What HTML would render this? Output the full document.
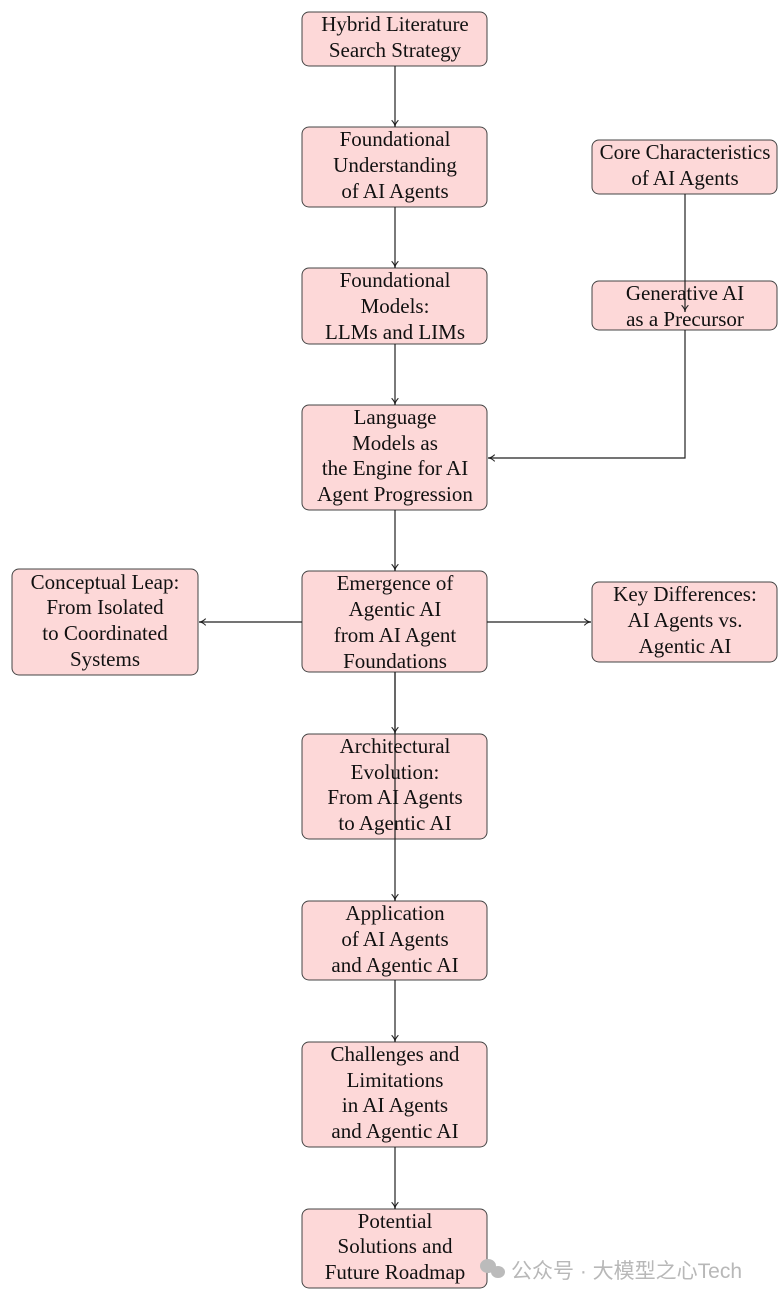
<!DOCTYPE html>
<html><head><meta charset="utf-8"><style>
html,body{margin:0;padding:0;background:#fff;}
svg{display:block;}
text{font-family:"Liberation Serif",serif;font-size:21px;fill:#111;text-anchor:middle;}
.b{fill:#fdd8d8;stroke:#444;stroke-width:1;}
.l{stroke:#222;stroke-width:1.2;fill:none;}
</style></head><body>
<svg width="784" height="1300" viewBox="0 0 784 1300">
<defs><marker id="a" viewBox="0 0 10 10" refX="9" refY="5" markerWidth="7" markerHeight="7" orient="auto"><path d="M1,1 Q5,5 9,5 Q5,5 1,9" fill="none" stroke="#222" stroke-width="1.3"/></marker></defs>
<rect class="b" x="302" y="12" width="185" height="54" rx="7"/>
<rect class="b" x="302" y="127" width="185" height="80" rx="7"/>
<rect class="b" x="302" y="268" width="185" height="76" rx="7"/>
<rect class="b" x="302" y="405" width="185" height="105" rx="7"/>
<rect class="b" x="302" y="571" width="185" height="101" rx="7"/>
<rect class="b" x="302" y="734" width="185" height="105" rx="7"/>
<rect class="b" x="302" y="901" width="185" height="79" rx="7"/>
<rect class="b" x="302" y="1042" width="185" height="105" rx="7"/>
<rect class="b" x="302" y="1209" width="185" height="79" rx="7"/>
<rect class="b" x="12" y="569" width="186" height="106" rx="7"/>
<rect class="b" x="592" y="582" width="185" height="80" rx="7"/>
<rect class="b" x="592" y="140" width="185" height="54" rx="7"/>
<rect class="b" x="592" y="281" width="185" height="49" rx="7"/>
<g class="l" marker-end="url(#a)">
<line x1="395" y1="66" x2="395" y2="127"/>
<line x1="395" y1="207" x2="395" y2="268"/>
<line x1="395" y1="344" x2="395" y2="405"/>
<line x1="395" y1="510" x2="395" y2="571"/>
<line x1="395" y1="672" x2="395" y2="734"/>
<line x1="395" y1="672" x2="395" y2="901"/>
<line x1="395" y1="980" x2="395" y2="1042"/>
<line x1="395" y1="1147" x2="395" y2="1209"/>
<line x1="685" y1="194" x2="685" y2="312"/>
<polyline points="685,330 685,458 488,458"/>
<line x1="302" y1="622" x2="199" y2="622"/>
<line x1="487" y1="622" x2="591" y2="622"/>
</g>
<text x="395" y="31">Hybrid Literature</text><text x="395" y="57">Search Strategy</text>
<text x="395" y="146">Foundational</text><text x="395" y="172">Understanding</text><text x="395" y="198">of AI Agents</text>
<text x="395" y="287">Foundational</text><text x="395" y="313">Models:</text><text x="395" y="339">LLMs and LIMs</text>
<text x="395" y="424">Language</text><text x="395" y="450">Models as</text><text x="395" y="475">the Engine for AI</text><text x="395" y="501">Agent Progression</text>
<text x="395" y="590">Emergence of</text><text x="395" y="616">Agentic AI</text><text x="395" y="642">from AI Agent</text><text x="395" y="668">Foundations</text>
<text x="395" y="753">Architectural</text><text x="395" y="779">Evolution:</text><text x="395" y="804">From AI Agents</text><text x="395" y="830">to Agentic AI</text>
<text x="395" y="920">Application</text><text x="395" y="946">of AI Agents</text><text x="395" y="972">and Agentic AI</text>
<text x="395" y="1061">Challenges and</text><text x="395" y="1087">Limitations</text><text x="395" y="1112">in AI Agents</text><text x="395" y="1138">and Agentic AI</text>
<text x="395" y="1228">Potential</text><text x="395" y="1253">Solutions and</text><text x="395" y="1279">Future Roadmap</text>
<text x="105" y="589">Conceptual Leap:</text><text x="105" y="614">From Isolated</text><text x="105" y="640">to Coordinated</text><text x="105" y="666">Systems</text>
<text x="685" y="601">Key Differences:</text><text x="685" y="627">AI Agents vs.</text><text x="685" y="653">Agentic AI</text>
<text x="685" y="159">Core Characteristics</text><text x="685" y="185">of AI Agents</text>
<text x="685" y="300">Generative AI</text><text x="685" y="326">as a Precursor</text>
<g fill="#bbb"><ellipse cx="488" cy="1266" rx="8" ry="7"/><ellipse cx="498" cy="1272" rx="7" ry="6"/></g>
<text x="511" y="1278" style="font-family:'Liberation Sans','Noto Sans CJK SC',sans-serif;font-size:21px;fill:#b8b8b8;text-anchor:start;">公众号 · 大模型之心Tech</text>
</svg>
</body></html>
